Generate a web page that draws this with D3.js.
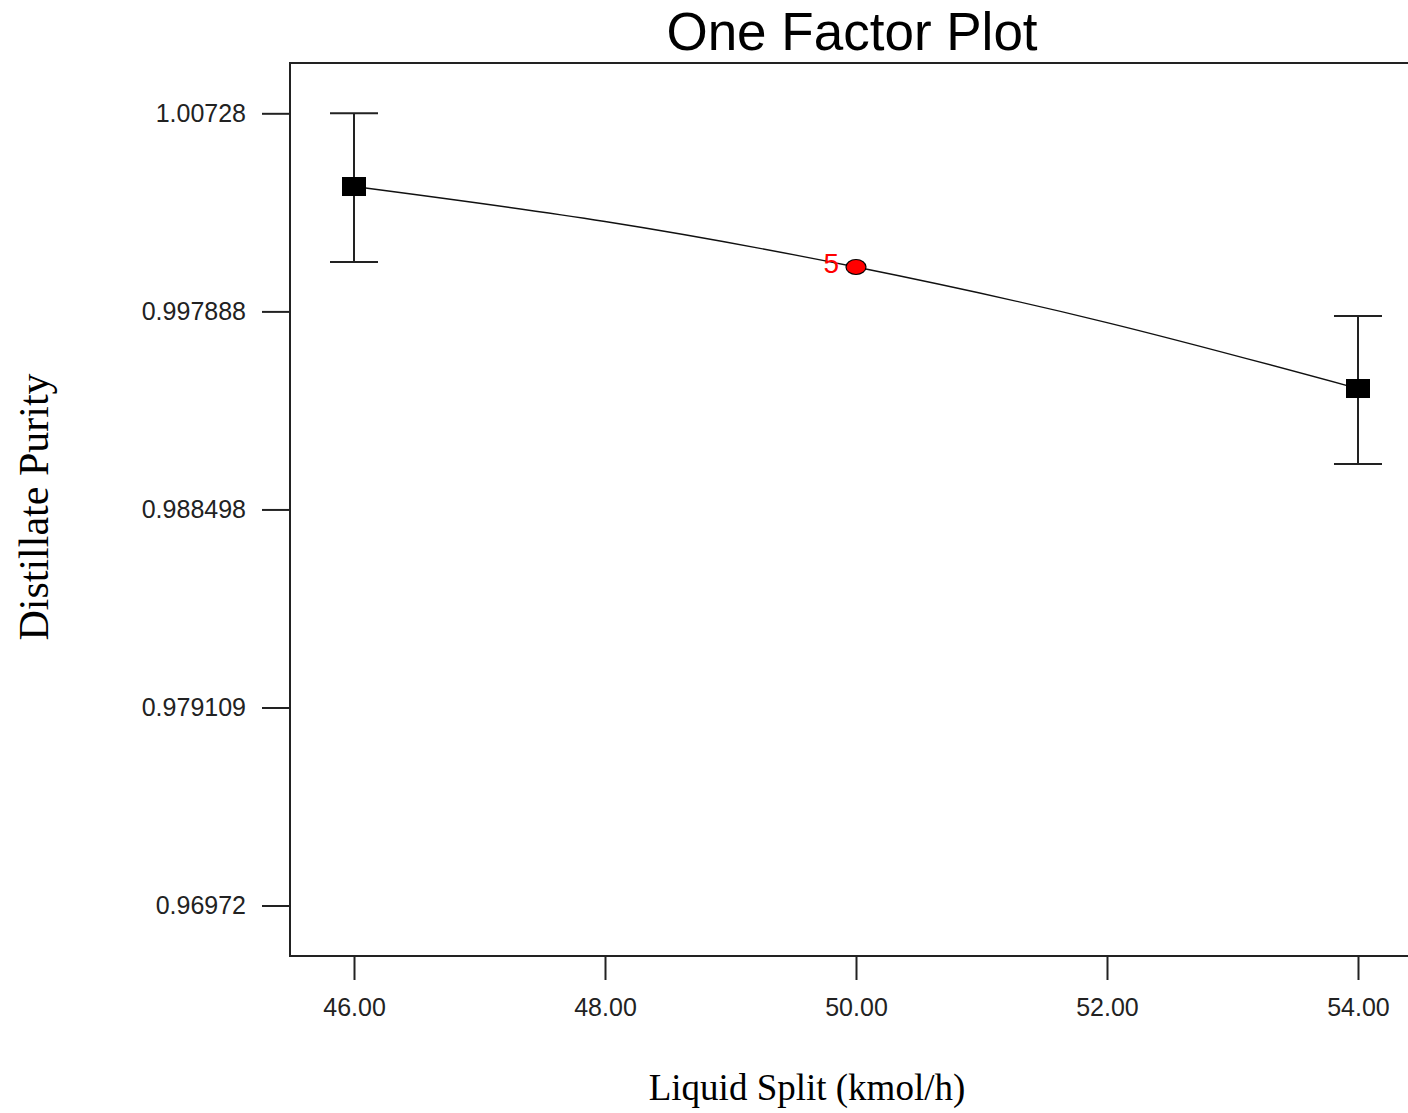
<!DOCTYPE html>
<html>
<head>
<meta charset="UTF-8" />
<title>One Factor Plot</title>
<script src="https://cdn.jsdelivr.net/npm/d3@7"></script>
<style>
  body { margin: 0; background: #fff; }
  svg { display: block; }
  .tick text { font-family: "Liberation Sans", Arial, sans-serif; font-size: 25px; fill: #222; }
  .tick line { stroke: #222; stroke-width: 2; }
</style>
</head>
<body>
<svg id="chart"></svg>
<script>
// values
const xTicks = [46, 48, 50, 52, 54];
const yTicks = [0.96972, 0.979109, 0.988498, 0.997888, 1.00728];
const yTickLabels = ["0.96972", "0.979109", "0.988498", "0.997888", "1.00728"];

// design points with LSD bars
const factorX = [46, 54];
const factorMean = [1.003809, 0.994232];
const barLow = [1.00023, 0.990652];
const barHigh = [1.00728, 0.99767];

// center point
const centerX = [50];
const centerY = [0.999993];
const centerCount = ["5"];

// prediction line
const lineX = [46, 48, 50, 52, 54];
const lineY = [1.003809, 1.00215, 0.999993, 0.997361, 0.994232];

const width = 1408, height = 1113;
const plotLeft = 290, plotTop = 63, plotBottom = 956, plotRight = 1422;

const svg = d3.select("#chart").attr("width", width).attr("height", height);

const x = d3.scaleLinear().domain([45.49, 54.51]).range([plotLeft, plotRight]);
const y = d3.scaleLinear().domain([0.967326, 1.009665]).range([plotBottom, plotTop]);

// title
svg.append("text")
  .attr("x", 852).attr("y", 50)
  .attr("text-anchor", "middle")
  .style("font-family", "'Liberation Sans', Arial, sans-serif")
  .style("font-size", "53px")
  .text("One Factor Plot");

// axes
svg.append("g")
  .attr("transform", `translate(${plotLeft},0)`)
  .call(d3.axisLeft(y).tickValues(yTicks).tickSize(28).tickPadding(16)
    .tickFormat((d, i) => yTickLabels[i]))
  .call(g => g.select(".domain").remove());

svg.append("g")
  .attr("transform", `translate(0,${plotBottom})`)
  .call(d3.axisBottom(x).tickValues(xTicks).tickSize(24).tickPadding(18)
    .tickFormat(d3.format(".2f")))
  .call(g => g.select(".domain").remove());

// frame
svg.append("rect")
  .attr("x", plotLeft).attr("y", plotTop)
  .attr("width", plotRight - plotLeft).attr("height", plotBottom - plotTop)
  .attr("fill", "none").attr("stroke", "#222").attr("stroke-width", 2);

// prediction line
svg.append("path")
  .datum(lineX.map((d, i) => [d, lineY[i]]))
  .attr("fill", "none").attr("stroke", "#111").attr("stroke-width", 1.3)
  .attr("d", d3.line().x(d => x(d[0])).y(d => y(d[1])).curve(d3.curveNatural));

// error bars
const bars = svg.append("g").attr("stroke", "#222").attr("stroke-width", 2);
factorX.forEach((fx, i) => {
  bars.append("line").attr("x1", x(fx)).attr("x2", x(fx)).attr("y1", y(barHigh[i])).attr("y2", y(barLow[i]));
  bars.append("line").attr("x1", x(fx) - 24).attr("x2", x(fx) + 24).attr("y1", y(barHigh[i])).attr("y2", y(barHigh[i]));
  bars.append("line").attr("x1", x(fx) - 24).attr("x2", x(fx) + 24).attr("y1", y(barLow[i])).attr("y2", y(barLow[i]));
});

// square markers
svg.selectAll("rect.pt")
  .data(factorX)
  .join("rect")
  .attr("class", "pt")
  .attr("x", d => x(d) - 12).attr("y", (d, i) => y(factorMean[i]) - 9.5)
  .attr("width", 24).attr("height", 19)
  .attr("fill", "#000");

// center point
svg.selectAll("ellipse.cp")
  .data(centerX)
  .join("ellipse")
  .attr("class", "cp")
  .attr("cx", d => x(d)).attr("cy", (d, i) => y(centerY[i]))
  .attr("rx", 10).attr("ry", 7.5)
  .attr("fill", "#ff0000").attr("stroke", "#000").attr("stroke-width", 1.2);

svg.selectAll("text.cnt")
  .data(centerX)
  .join("text")
  .attr("class", "cnt")
  .attr("x", d => x(d) - 17).attr("y", (d, i) => y(centerY[i]) + 6)
  .attr("text-anchor", "end")
  .style("font-family", "'Liberation Sans', Arial, sans-serif")
  .style("font-size", "28px")
  .attr("fill", "#ff0000")
  .text((d, i) => centerCount[i]);

// axis titles
svg.append("text")
  .attr("x", 807).attr("y", 1100)
  .attr("text-anchor", "middle")
  .style("font-family", "'Liberation Serif', 'Times New Roman', serif")
  .style("font-size", "37px")
  .text("Liquid Split (kmol/h)");

svg.append("text")
  .attr("transform", "translate(48,507) rotate(-90)")
  .attr("text-anchor", "middle")
  .style("font-family", "'Liberation Serif', 'Times New Roman', serif")
  .style("font-size", "42px")
  .text("Distillate Purity");
</script>
</body>
</html>
